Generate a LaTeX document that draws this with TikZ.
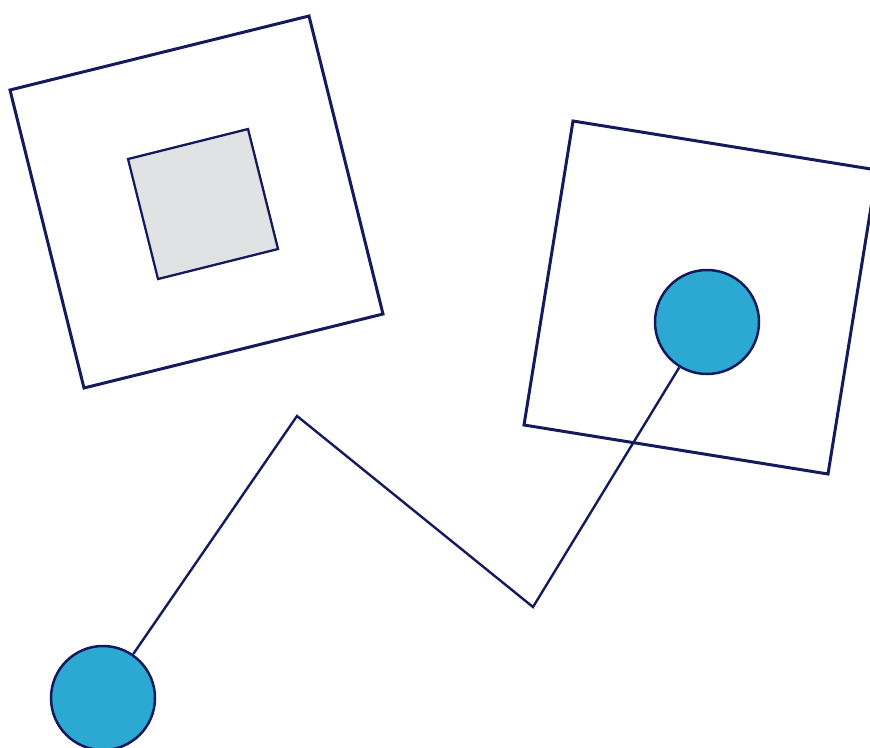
\documentclass[tikz,border=0pt]{standalone}
\usetikzlibrary{calc}
\definecolor{navy}{HTML}{141A5C}
\definecolor{ball}{HTML}{2BA9D2}
\definecolor{pale}{HTML}{E0E2E4}
\tikzset{
  frame/.style={draw=navy, line width=3pt, line join=miter},
  inner/.style={draw=navy, fill=pale, line width=2.3pt},
  ballnode/.style={circle, draw=navy, fill=ball, line width=2.5pt, minimum size=104pt, inner sep=0pt},
  wire/.style={draw=navy, line width=2.4pt}
}
\begin{document}
\begin{tikzpicture}[x=1pt,y=-1pt]
\useasboundingbox (0,0) rectangle (870,747);
\clip (0,0) rectangle (870,747);
\draw[frame] (10,90) -- (309,16) -- (383,314) -- (84,388) -- cycle;
\draw[inner] (128,159) -- (248,129) -- (278,249) -- (158,279) -- cycle;
\draw[frame] (573,121) -- (877,170) -- (828,474) -- (524,425) -- cycle;
\coordinate (p1) at (297,416);
\coordinate (p2) at (533,607);
\node[ballnode] (c2) at (707,322) {};
\node[ballnode] (c1) at (103,698) {};
\draw[wire] (c1) -- (p1) -- (p2) -- (c2);
\end{tikzpicture}
\end{document}
